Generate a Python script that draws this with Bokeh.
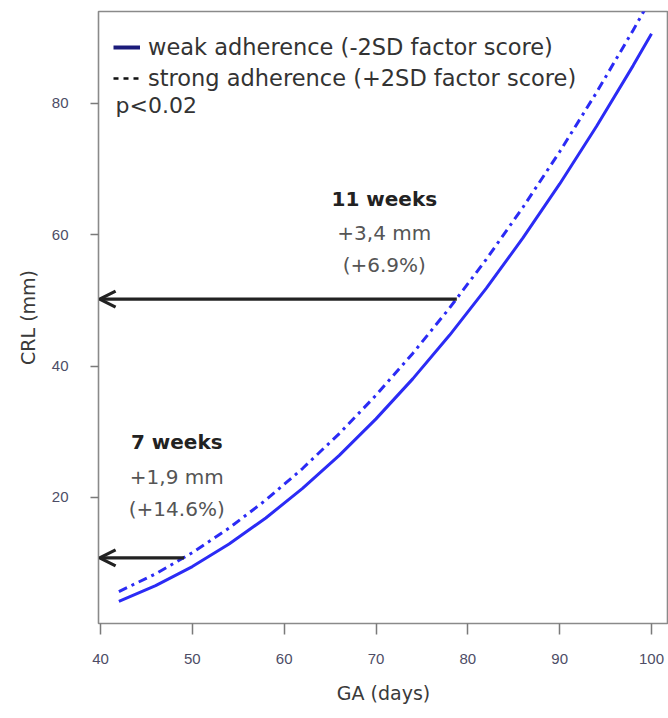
from bokeh.plotting import figure
from bokeh.models import Range1d, FixedTicker, Arrow, OpenHead, Label, Legend, LegendItem
from bokeh.embed import file_html
from bokeh.resources import INLINE

# ---- data ----
ga_days = [42, 46, 50, 54, 58, 62, 66, 70, 74, 78, 82, 86, 90, 94, 98, 100]
crl_weak = [4.19, 6.57, 9.48, 12.91, 16.88, 21.38, 26.41, 31.97, 38.06, 44.69,
            51.84, 59.52, 67.74, 76.49, 85.76, 90.60]
crl_strong = [5.67, 8.37, 11.59, 15.34, 19.61, 24.41, 29.73, 35.57, 41.94, 48.83,
              56.25, 64.19, 72.65, 81.64, 91.16, 96.11]
arrow_ga = [49.1, 78.8]        # where arrows leave the strong curve
arrow_crl = [10.8, 50.2]       # CRL level of each arrow
x_ticks = [40, 50, 60, 70, 80, 90, 100]
y_ticks = [20, 40, 60, 80]
series_labels = ["weak adherence (-2SD factor score)", "strong adherence (+2SD factor score)"]
notes_7w = ["7 weeks", "+1,9 mm", "(+14.6%)"]
notes_11w = ["11 weeks", "+3,4 mm", "(+6.9%)"]

FONT = "DejaVu Sans"

p = figure(width=668, height=718, output_backend="svg", toolbar_location=None,
           x_range=Range1d(39.78, 101.85), y_range=Range1d(0.81, 94.0),
           min_border_left=98, min_border_right=0, min_border_top=11, min_border_bottom=95)
p.background_fill_color = "white"
p.border_fill_color = "white"
p.outline_line_color = "#8a8a8a"
p.outline_line_width = 1.6
p.xgrid.visible = False
p.ygrid.visible = False

# curves
p.line(ga_days, crl_weak, line_color="#2b2bf5", line_width=3)
p.line(ga_days, crl_strong, line_color="#2b2bf5", line_width=3, line_dash="9 5 3 5")

# arrows
for gx, cy in zip(arrow_ga, arrow_crl):
    p.add_layout(Arrow(end=OpenHead(size=16, line_width=3.2, line_color="#222222"),
                       x_start=gx, y_start=cy, x_end=39.9, y_end=cy,
                       line_width=3.2, line_color="#222222"))

# annotations
def notes(lines, x, ys):
    for i, (t, y) in enumerate(zip(lines, ys)):
        p.add_layout(Label(x=x, y=y, text=t, text_align="center", text_baseline="middle",
                           text_font=FONT, text_font_size="20px",
                           text_font_style="bold" if i == 0 else "normal",
                           text_color="#222222" if i == 0 else "#555555"))

notes(notes_11w, 70.9, [65.4, 60.3, 55.4])
notes(notes_7w, 48.3, [28.4, 23.1, 18.3])

# legend (samples styled as in the reference legend; sample renderers hidden in the plot)
r1 = p.line(ga_days, crl_weak, line_color="#1b1b7a", line_width=4, visible=False)
r2 = p.line(ga_days, crl_strong, line_color="#111111", line_width=2.5, line_dash="5 5",
            visible=False)
legend = Legend(items=[LegendItem(label=series_labels[0], renderers=[r1]),
                       LegendItem(label=series_labels[1], renderers=[r2])],
                location=(15, 532), margin=0, padding=9, glyph_width=27, glyph_height=22,
                label_height=22, spacing=5, label_standoff=8, label_text_font=FONT,
                label_text_font_size="22.5px", label_text_color="#333333",
                border_line_color=None, background_fill_alpha=0,
                inactive_fill_alpha=0)
p.add_layout(legend)
p.add_layout(Label(x=17, y=518, x_units="screen", y_units="screen", text="p<0.02",
                   text_baseline="middle", text_font=FONT, text_font_size="22px",
                   text_color="#333333"))

# axes
p.xaxis.ticker = FixedTicker(ticks=x_ticks)
p.yaxis.ticker = FixedTicker(ticks=y_ticks)
for ax in (p.xaxis[0], p.yaxis[0]):
    ax.axis_line_color = None
    ax.minor_tick_line_color = None
    ax.major_tick_in = 0
    ax.major_tick_line_color = "#7a7a7a"
    ax.major_tick_line_width = 1.5
    ax.major_label_text_font = "Liberation Sans"
    ax.major_label_text_font_size = "15px"
    ax.major_label_text_color = "#4d4d66"
    ax.axis_label_text_font = FONT
    ax.axis_label_text_font_size = "19px"
    ax.axis_label_text_font_style = "normal"
    ax.axis_label_text_color = "#3a3a3a"
p.xaxis.major_tick_out = 11
p.yaxis.major_tick_out = 8
p.xaxis.major_label_standoff = 19
p.yaxis.major_label_standoff = 22
p.xaxis.axis_label = "GA (days)"
p.yaxis.axis_label = "CRL (mm)"
p.xaxis.axis_label_standoff = 15
p.yaxis.axis_label_standoff = 10

open("out.html", "w").write(file_html(p, INLINE))
